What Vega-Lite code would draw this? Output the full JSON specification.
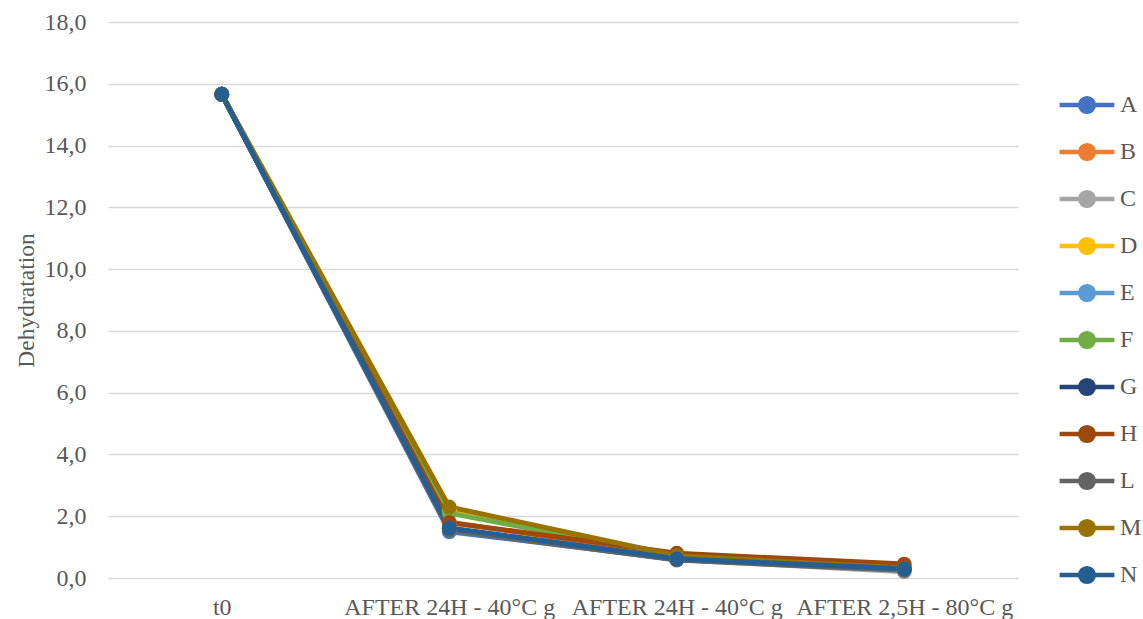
{
  "$schema": "https://vega.github.io/schema/vega-lite/v6.json",
  "autosize": "none",
  "width": 910,
  "height": 556,
  "padding": {"left": 108, "top": 22, "right": 125, "bottom": 41},
  "background": "white",
  "config": {
    "font": "Liberation Serif",
    "view": {"stroke": null}
  },
  "data": {
    "values": [
      {"s": "A", "step": 0, "v": 15.66}, {"s": "A", "step": 1, "v": 1.5}, {"s": "A", "step": 2, "v": 0.6}, {"s": "A", "step": 3, "v": 0.28},
      {"s": "B", "step": 0, "v": 15.66}, {"s": "B", "step": 1, "v": 1.8}, {"s": "B", "step": 2, "v": 0.75}, {"s": "B", "step": 3, "v": 0.4},
      {"s": "C", "step": 0, "v": 15.66}, {"s": "C", "step": 1, "v": 1.6}, {"s": "C", "step": 2, "v": 0.6}, {"s": "C", "step": 3, "v": 0.2},
      {"s": "D", "step": 0, "v": 15.66}, {"s": "D", "step": 1, "v": 2.2}, {"s": "D", "step": 2, "v": 0.7}, {"s": "D", "step": 3, "v": 0.3},
      {"s": "E", "step": 0, "v": 15.66}, {"s": "E", "step": 1, "v": 1.55}, {"s": "E", "step": 2, "v": 0.6}, {"s": "E", "step": 3, "v": 0.25},
      {"s": "F", "step": 0, "v": 15.66}, {"s": "F", "step": 1, "v": 2.1}, {"s": "F", "step": 2, "v": 0.7}, {"s": "F", "step": 3, "v": 0.3},
      {"s": "G", "step": 0, "v": 15.66}, {"s": "G", "step": 1, "v": 1.6}, {"s": "G", "step": 2, "v": 0.62}, {"s": "G", "step": 3, "v": 0.28},
      {"s": "H", "step": 0, "v": 15.66}, {"s": "H", "step": 1, "v": 1.8}, {"s": "H", "step": 2, "v": 0.8}, {"s": "H", "step": 3, "v": 0.45},
      {"s": "L", "step": 0, "v": 15.66}, {"s": "L", "step": 1, "v": 1.55}, {"s": "L", "step": 2, "v": 0.58}, {"s": "L", "step": 3, "v": 0.25},
      {"s": "M", "step": 0, "v": 15.66}, {"s": "M", "step": 1, "v": 2.3}, {"s": "M", "step": 2, "v": 0.72}, {"s": "M", "step": 3, "v": 0.32},
      {"s": "N", "step": 0, "v": 15.66}, {"s": "N", "step": 1, "v": 1.62}, {"s": "N", "step": 2, "v": 0.62}, {"s": "N", "step": 3, "v": 0.3}
    ]
  },
  "encoding": {
    "x": {
      "field": "step",
      "type": "ordinal",
      "scale": {"type": "point", "padding": 0.5},
      "axis": {
        "title": null,
        "labelAngle": 0,
        "labelFont": "Liberation Serif",
        "labelFontSize": 24,
        "labelColor": "#595959",
        "labelPadding": 17,
        "labelLimit": 0,
        "labelOverlap": false,
        "ticks": false,
        "domain": false,
        "grid": false,
        "labelExpr": "['t0','AFTER 24H - 40°C g','AFTER 24H - 40°C g','AFTER 2,5H - 80°C g'][datum.value]"
      }
    },
    "y": {
      "field": "v",
      "type": "quantitative",
      "scale": {"domain": [0, 18], "nice": false},
      "axis": {
        "title": "Dehydratation",
        "titleFont": "Liberation Serif",
        "titleFontSize": 23.5,
        "titleFontWeight": "normal",
        "titleColor": "#595959",
        "titlePadding": 6,
        "values": [0, 2, 4, 6, 8, 10, 12, 14, 16, 18],
        "labelExpr": "replace(format(datum.value, '.1f'), '.', ',')",
        "labelFont": "Liberation Serif",
        "labelFontSize": 24,
        "labelColor": "#595959",
        "labelPadding": 22,
        "ticks": false,
        "domain": false,
        "grid": true,
        "gridColor": "#d9d9d9",
        "gridWidth": 1.3
      }
    },
    "color": {
      "field": "s",
      "type": "nominal",
      "scale": {
        "domain": ["A", "B", "C", "D", "E", "F", "G", "H", "L", "M", "N"],
        "range": ["#4472C4", "#ED7D31", "#A5A5A5", "#FFC000", "#5B9BD5", "#70AD47", "#264478", "#9E480E", "#636363", "#997300", "#255E91"]
      },
      "legend": {
        "title": null,
        "orient": "none",
        "legendX": 963,
        "legendY": 67,
        "labelFont": "Liberation Serif",
        "labelFontSize": 24,
        "labelColor": "#595959",
        "rowPadding": 15,
        "labelOffset": 17,
        "symbolType": "M-2,0H2M0.5,0A0.5,0.5 0 1,1 -0.5,0A0.5,0.5 0 1,1 0.5,0Z",
        "symbolSize": 750,
        "symbolStrokeWidth": 4.5
      }
    }
  },
  "layer": [
    {
      "mark": {"type": "line", "strokeWidth": 5, "strokeCap": "round", "strokeJoin": "round"},
      "encoding": {"detail": {"field": "s"}}
    },
    {
      "mark": {"type": "circle", "size": 220, "opacity": 1}
    }
  ]
}
